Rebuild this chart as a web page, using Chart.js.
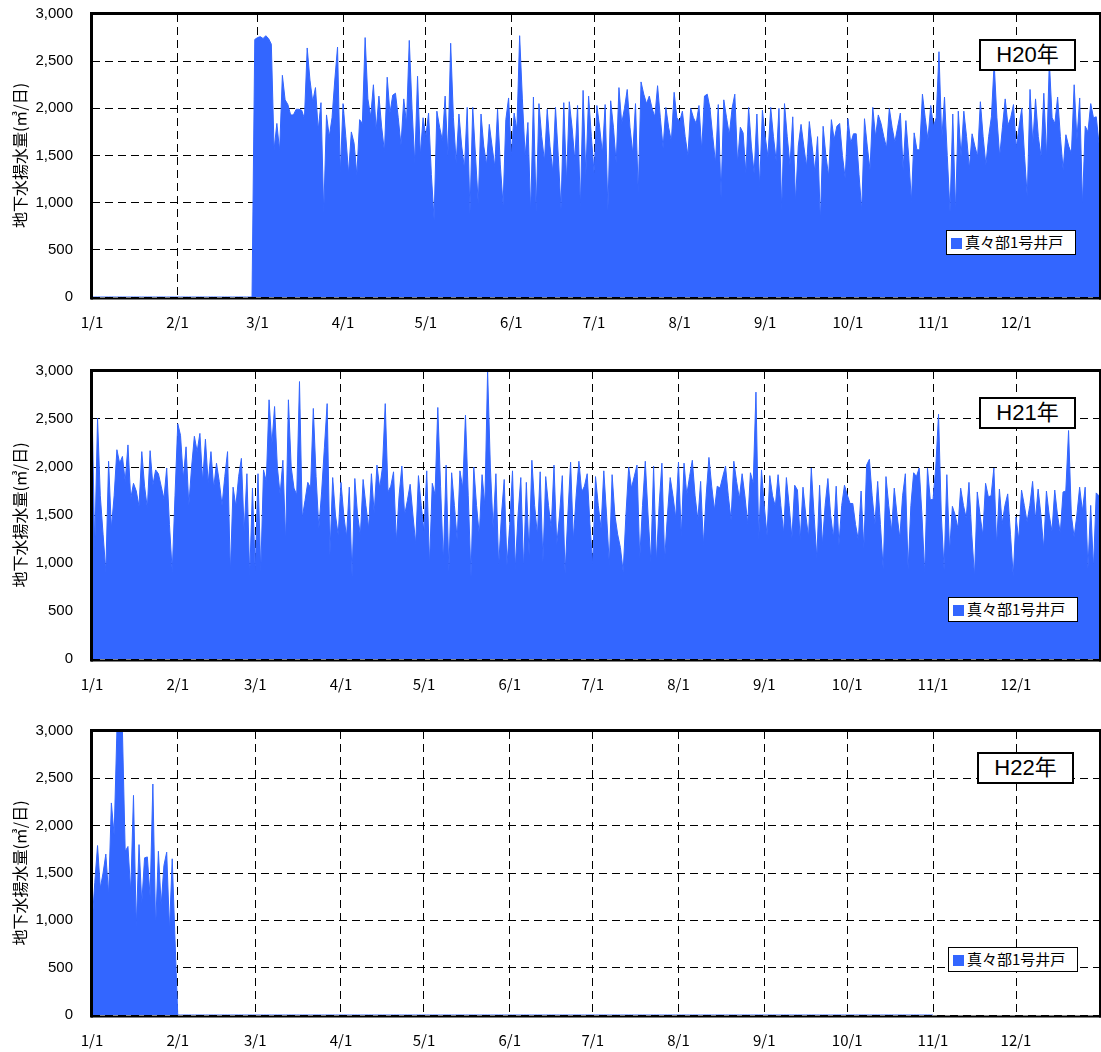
<!DOCTYPE html>
<html>
<head>
<meta charset="utf-8">
<script src="https://cdn.jsdelivr.net/npm/chart.js@4.4.1/dist/chart.umd.min.js"></script>
<style>
  html, body { margin: 0; padding: 0; background: #fff; }
  body { position: relative; width: 1101px; height: 1052px; overflow: hidden; }
  .panel { position: absolute; left: 0; }
  .year {
    position: absolute; box-sizing: border-box; width: 97px; height: 32px;
    border: 2px solid #000; background: #fff; text-align: center;
    font: 22px 'Liberation Sans', 'Noto Sans CJK JP', sans-serif; line-height: 28px; color: #000;
  }
  .legend {
    position: absolute; box-sizing: border-box; width: 130px; height: 25px;
    border: 1.5px solid #000; background: #fff; color: #000;
    font: 15px 'Noto Sans CJK JP', sans-serif; line-height: 22px; white-space: nowrap;
  }
  .legend i {
    display: inline-block; width: 11px; height: 11px; background: #3366ff;
    margin: 0 3px 0 4px; vertical-align: -1px;
  }
</style>
</head>
<body>
<canvas id="c20" class="panel" width="1101" height="350" style="top:0px"></canvas>
<canvas id="c21" class="panel" width="1101" height="360" style="top:350px"></canvas>
<canvas id="c22" class="panel" width="1101" height="342" style="top:710px"></canvas>

<div class="year" style="left:979px;top:39px">H20年</div>
<div class="legend" style="left:946px;top:230px"><i></i>真々部1号井戸</div>
<div class="year" style="left:979px;top:397px">H21年</div>
<div class="legend" style="left:948px;top:597px"><i></i>真々部1号井戸</div>
<div class="year" style="left:977px;top:752px">H22年</div>
<div class="legend" style="left:948px;top:947px"><i></i>真々部1号井戸</div>

<script>
// Month-start tick labels and their day positions
const monthLabels = ['1/1','2/1','3/1','4/1','5/1','6/1','7/1','8/1','9/1','10/1','11/1','12/1'];
const monthStartLeap = [0,31,60,91,121,152,182,213,244,274,305,335];
const monthStart = [0,31,59,90,120,151,181,212,243,273,304,334];
const seriesName = '真々部1号井戸';
const axisTitle = '地下水揚水量(㎥/日)';

// Daily pumped volume, H20 (2008, 366 days)
const h20 = [
  0,0,0,0,0,0,0,0,0,0,
  0,0,0,0,0,0,0,0,0,0,
  0,0,0,0,0,0,0,0,0,0,
  0,0,0,0,0,0,0,0,0,0,
  0,0,0,0,0,0,0,0,0,0,
  0,0,0,0,0,0,0,0,0,
  2730,
  2750,2760,2740,2770,2740,2680,1560,1840,1550,2350,
  2090,2040,1930,1930,1990,1990,1980,1890,2640,2300,
  2070,2220,1770,2060,890,1930,1700,1900,2300,2650,
  1310,2050,1700,1310,1750,1630,1290,1880,1840,2750,
  2100,1910,2250,1770,2130,1800,1540,2330,1950,2140,
  2160,1900,1610,2100,1840,2720,2000,1420,2340,1500,
  1900,1700,1950,1300,820,1970,1800,1660,2130,1490,
  2690,1900,1420,1940,1600,1360,2010,890,2010,1500,
  990,1940,1600,1400,1830,1600,1380,1990,1400,975,
  1880,2110,1490,1950,1770,2770,2100,1490,1850,890,
  2120,905,2050,1700,1440,1990,1600,1330,2010,1500,
  930,2060,1220,2070,1800,1450,2030,940,2190,1290,
  2130,1700,1310,2030,1800,1520,2040,920,2080,1800,
  1420,2220,1840,2000,2200,1800,1520,2050,1100,2280,
  2150,2050,2130,2000,1910,2240,1900,1580,2010,1800,
  1650,2170,1900,1860,1970,1700,1500,2000,1900,1840,
  2030,1560,2130,2150,2000,1700,1420,2040,1060,2090,
  1900,1720,2000,2150,1420,1800,1740,1310,2010,1600,
  1310,1940,1170,1980,1700,1490,2010,1700,1440,2000,
  920,2050,1700,1400,1910,1010,1600,1830,1600,1380,
  1860,1600,1330,1700,800,1810,1500,1280,1880,1670,
  1810,1840,1500,1260,1890,1630,1730,1730,1300,920,
  1890,1600,1350,2010,1700,1930,1840,1700,1580,2000,
  1800,1640,1800,1950,1350,1870,1500,1010,1740,1560,
  1560,2150,1900,1670,2030,1810,1900,2600,1670,2120,
  1500,905,1940,905,1970,1490,1970,1700,1360,1730,
  1600,1490,2070,1700,1400,1700,1910,2480,1900,1490,
  1800,2100,1820,1900,2040,1580,1800,2000,1500,1060,
  2200,1630,2100,1700,1490,2160,1480,2500,1900,1840,
  2120,1700,1350,1720,1600,1520,2250,1670,2110,975,
  1810,1750,2050,1900,1910,1630
];

// Daily pumped volume, H21 (2009, 365 days)
const h21 = [
  2630,1150,2510,1700,1300,910,2060,1360,1700,2180,
  2040,2110,1850,2230,1670,1830,1750,1590,2160,1800,
  1570,2170,1810,1970,1930,1800,1670,1990,1400,910,
  1700,2450,2330,1880,2210,1600,2000,2320,2160,2350,
  1850,2290,1830,2160,1780,2040,1850,1600,1900,2160,
  890,1790,1590,1900,2090,1330,1930,860,1780,910,
  1930,910,1970,1850,2700,2230,2630,2000,1710,2070,
  1220,2700,2000,1780,1710,2890,1470,1650,1840,1780,
  2610,1900,1360,1740,2200,2660,1080,1890,1500,1290,
  1840,1500,1270,1790,860,1880,1500,1290,1870,1600,
  1360,1930,1520,2020,1780,2000,2660,1740,1800,1950,
  1220,1700,2010,1500,1650,1820,1500,1200,1910,1600,
  1330,1960,980,1830,1710,2620,1800,1010,2020,910,
  1940,1600,1240,1960,1780,2540,1700,860,2000,1600,
  1290,1920,1600,3000,2000,1360,1930,960,1500,1870,
  980,1400,1960,940,1500,1890,940,1840,1080,2070,
  1600,1290,1950,1010,1900,1600,1360,2020,1190,1500,
  1910,890,1500,2050,1240,1700,2060,1740,1800,1930,
  1400,980,1900,1600,1360,1960,1500,980,1920,1500,
  1300,1160,910,1500,2000,1780,1900,2020,1050,1600,
  2060,1500,1010,2010,1010,1600,2040,1030,1500,1890,
  1700,1470,2050,1270,2040,1710,1900,2070,1700,1450,
  1850,1190,1700,2100,1800,1550,1800,1780,1900,2010,
  1700,1450,2060,1850,1670,1930,1700,1410,1940,1830,
  2780,1240,1970,1600,1290,1910,1700,1590,1920,1600,
  1310,1890,1600,1260,1810,1760,1240,1790,1500,1270,
  1990,1500,1050,1810,1190,1600,1880,1500,1260,1800,
  1190,1600,1810,1710,1620,1620,1400,1240,1750,1150,
  2020,2080,1700,1400,1850,1400,930,1900,1600,1330,
  1780,1500,1260,1700,1930,930,1600,1940,1900,1990,
  1500,890,1990,1660,1660,2000,2550,1500,930,1920,
  1120,1590,1500,1360,1780,1600,1470,1840,1300,860,
  1740,1500,1290,1830,1690,1700,1990,1190,1770,1410,
  1600,1720,1300,860,1480,1240,1760,1600,1430,1600,
  1850,1450,1770,1500,1150,1750,1500,1330,1760,1500,
  1310,1740,1750,2380,1500,1270,1500,1790,1540,1790,
  944,1600,944,1730,1700
];

// Daily pumped volume, H22 (2010, recorded through 11/1)
const h22 = [
  950,1400,1790,1340,1500,1700,1270,2240,1900,3000,
  3000,3000,1730,1780,1300,2320,930,1800,1180,1660,
  1670,1250,2440,920,1730,1160,1580,1720,900,1650,
  800,
  0,0,0,0,0,0,0,0,0,0,
  0,0,0,0,0,0,0,0,0,0,
  0,0,0,0,0,0,0,0,0,0,
  0,0,0,0,0,0,0,0,0,0,
  0,0,0,0,0,0,0,0,0,0,
  0,0,0,0,0,0,0,0,0,0,
  0,0,0,0,0,0,0,0,0,0,
  0,0,0,0,0,0,0,0,0,0,
  0,0,0,0,0,0,0,0,0,0,
  0,0,0,0,0,0,0,0,0,0,
  0,0,0,0,0,0,0,0,0,0,
  0,0,0,0,0,0,0,0,0,0,
  0,0,0,0,0,0,0,0,0,0,
  0,0,0,0,0,0,0,0,0,0,
  0,0,0,0,0,0,0,0,0,0,
  0,0,0,0,0,0,0,0,0,0,
  0,0,0,0,0,0,0,0,0,0,
  0,0,0,0,0,0,0,0,0,0,
  0,0,0,0,0,0,0,0,0,0,
  0,0,0,0,0,0,0,0,0,0,
  0,0,0,0,0,0,0,0,0,0,
  0,0,0,0,0,0,0,0,0,0,
  0,0,0,0,0,0,0,0,0,0,
  0,0,0,0,0,0,0,0,0,0,
  0,0,0,0,0,0,0,0,0,0,
  0,0,0,0,0,0,0,0,0,0,
  0,0,0,0,0,0,0,0,0,0,
  0,0,0,0
];

const BLUE = '#3366ff';

// Heavy frame around the plot area, drawn over the filled area
const framePlugin = {
  id: 'plotFrame',
  afterDatasetsDraw(chart) {
    const { ctx, chartArea: a } = chart;
    ctx.save();
    ctx.strokeStyle = '#000';
    ctx.lineCap = 'square';
    // top and left edges: heavy
    ctx.lineWidth = 3;
    ctx.beginPath();
    ctx.moveTo(a.left - 0.5, a.bottom + 1);
    ctx.lineTo(a.left - 0.5, a.top - 0.5);
    ctx.lineTo(a.right + 1, a.top - 0.5);
    ctx.stroke();
    // right edge
    ctx.lineWidth = 2;
    ctx.beginPath();
    ctx.moveTo(a.right + 1, a.top);
    ctx.lineTo(a.right + 1, a.bottom + 1.5);
    ctx.stroke();
    // bottom axis line, just below the zero line of the series
    ctx.beginPath();
    ctx.moveTo(a.left, a.bottom + 1.5);
    ctx.lineTo(a.right + 1, a.bottom + 1.5);
    ctx.stroke();
    ctx.restore();
  }
};

function makeChart(id, values, days, starts, areaTop, axisHeight) {
  const points = values.map((v, i) => ({ x: i, y: v }));
  return new Chart(document.getElementById(id), {
    type: 'line',
    data: {
      datasets: [{
        label: seriesName,
        data: points,
        borderColor: BLUE,
        backgroundColor: BLUE,
        borderWidth: 1,
        fill: 'origin',
        pointRadius: 0,
        tension: 0
      }]
    },
    options: {
      responsive: false,
      animation: false,
      devicePixelRatio: 1,
      events: [],
      layout: { padding: { top: areaTop, right: 2, bottom: 0, left: 0 } },
      plugins: { legend: { display: false }, tooltip: { enabled: false } },
      scales: {
        x: {
          type: 'linear',
          min: 0,
          max: days - 1,
          afterBuildTicks(scale) { scale.ticks = starts.map(v => ({ value: v })); },
          afterFit(scale) { scale.height = axisHeight; },
          ticks: {
            autoSkip: false,
            maxRotation: 0,
            padding: 16,
            color: '#000',
            font: { family: "'Noto Sans CJK JP', sans-serif", size: 15 },
            callback: (v, i) => monthLabels[i]
          },
          grid: { color: '#000', lineWidth: 1, drawTicks: false },
          border: { display: false, dash: [8, 5] }
        },
        y: {
          min: 0,
          max: 3000,
          afterFit(scale) {
            scale.width = 92;
            scale.paddingTop = 6;
            scale.paddingBottom = 6;
          },
          ticks: {
            stepSize: 500,
            padding: 19,
            color: '#000',
            font: { family: "'Liberation Sans', Arial, sans-serif", size: 15 },
            callback: v => v.toLocaleString('en-US')
          },
          grid: { color: '#000', lineWidth: 1, drawTicks: false },
          border: { display: false, dash: [8, 5] },
          title: {
            display: true,
            text: axisTitle,
            color: '#000',
            font: { family: "'Noto Sans CJK JP', sans-serif", size: 16 },
            padding: { top: 10, bottom: 0 }
          }
        }
      }
    },
    plugins: [framePlugin]
  });
}

makeChart('c20', h20, 366, monthStartLeap, 14, 53);
makeChart('c21', h21, 365, monthStart, 21, 51);
makeChart('c22', h22, 365, monthStart, 21, 37);
</script>
</body>
</html>
